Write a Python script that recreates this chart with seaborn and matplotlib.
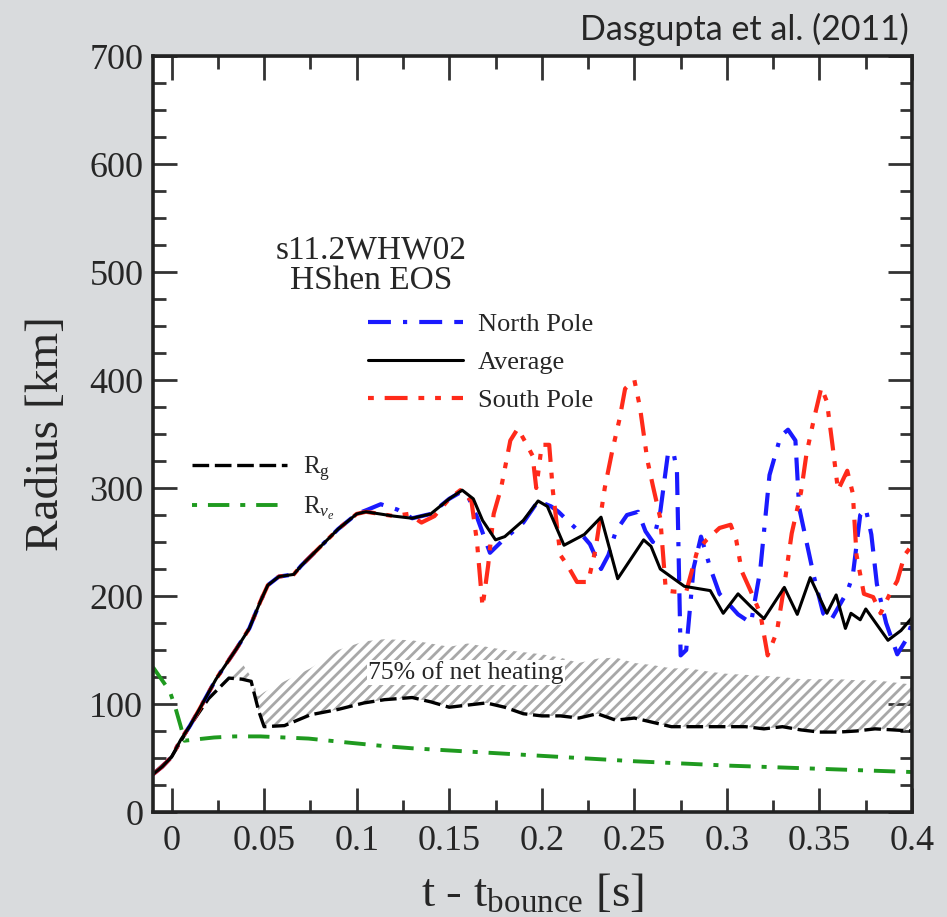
import numpy as np
import pandas as pd
import seaborn as sns
import matplotlib.pyplot as plt
from matplotlib.ticker import MultipleLocator
from matplotlib.lines import Line2D

# shock radius vs time after bounce
t_avg = [-0.01, -0.005, 0.0, 0.005, 0.01, 0.015, 0.024, 0.035, 0.042, 0.048, 0.052,
         0.058, 0.066, 0.07, 0.08, 0.09, 0.1, 0.105, 0.12, 0.13, 0.14, 0.15, 0.157,
         0.163, 0.168, 0.175, 0.18, 0.19, 0.198, 0.203, 0.212, 0.223, 0.232, 0.241,
         0.255, 0.259, 0.264, 0.277, 0.291, 0.298, 0.306, 0.313, 0.32, 0.331, 0.338,
         0.345, 0.354, 0.359, 0.364, 0.367, 0.372, 0.375, 0.387, 0.394, 0.4]
r_avg = [35, 42, 51, 67, 80, 95, 123, 151, 170, 195, 210,
         218, 220, 228, 245, 262, 276, 278, 274, 272, 276, 290, 298,
         290, 270, 252, 255, 270, 288, 283, 247, 257, 273, 216,
         252, 246, 225, 209, 205, 184, 202, 190, 179, 208, 183,
         217, 184, 201, 170, 184, 178, 188, 159, 168, 180]

t_north = [-0.01, -0.005, 0.0, 0.005, 0.01, 0.015, 0.024, 0.035, 0.042, 0.048, 0.052,
           0.058, 0.066, 0.07, 0.08, 0.09, 0.1, 0.106, 0.113, 0.122, 0.13, 0.14, 0.15,
           0.156, 0.16, 0.165, 0.172, 0.178, 0.19, 0.198, 0.205, 0.209, 0.215, 0.22,
           0.226, 0.232, 0.236, 0.24, 0.246, 0.252, 0.256, 0.26, 0.264, 0.268, 0.271,
           0.273, 0.275, 0.278, 0.282, 0.286, 0.291, 0.296, 0.306, 0.313, 0.318, 0.323,
           0.329, 0.333, 0.337, 0.339, 0.342, 0.347, 0.352, 0.356, 0.36, 0.365, 0.368,
           0.372, 0.375, 0.378, 0.381, 0.386, 0.392, 0.397, 0.4]
r_north = [35, 42, 51, 67, 80, 95, 123, 151, 170, 195, 210,
           218, 220, 228, 245, 262, 276, 280, 285, 280, 272, 276, 290,
           296, 293, 273, 240, 250, 268, 288, 283, 278, 268, 260,
           248, 225, 238, 260, 275, 278, 260, 250, 278, 330, 334,
           316, 145, 150, 226, 255, 226, 202, 183, 175, 224, 312,
           348, 354, 344, 282, 258, 218, 184, 177, 189, 204, 219,
           275, 281, 257, 211, 175, 146, 160, 175]

t_south = [-0.01, -0.005, 0.0, 0.005, 0.01, 0.015, 0.024, 0.035, 0.042, 0.048, 0.052,
           0.058, 0.066, 0.07, 0.08, 0.09, 0.1, 0.105, 0.12, 0.128, 0.135, 0.142, 0.15,
           0.156, 0.162, 0.165, 0.168, 0.171, 0.174, 0.178, 0.183, 0.187, 0.191, 0.195,
           0.197, 0.2, 0.204, 0.206, 0.21, 0.214, 0.219, 0.225, 0.229, 0.234, 0.238,
           0.242, 0.245, 0.25, 0.253, 0.257, 0.26, 0.264, 0.267, 0.272, 0.278, 0.284,
           0.289, 0.296, 0.302, 0.305, 0.308, 0.313, 0.318, 0.322, 0.327, 0.331, 0.335,
           0.34, 0.343, 0.347, 0.351, 0.354, 0.357, 0.36, 0.365, 0.368, 0.37, 0.374,
           0.379, 0.383, 0.388, 0.392, 0.396, 0.4]
r_south = [35, 42, 51, 67, 80, 95, 123, 151, 170, 195, 210,
           218, 220, 228, 245, 262, 276, 278, 274, 276, 268, 274, 290,
           298, 288, 250, 190, 228, 276, 300, 344, 355, 343, 330,
           300, 340, 340, 297, 238, 228, 213, 213, 243, 300, 334,
           364, 392, 400, 375, 326, 302, 272, 205, 204, 204, 242,
           252, 263, 266, 252, 223, 204, 184, 145, 167, 210, 258,
           296, 332, 364, 393, 380, 340, 298, 316, 295, 238, 202,
           199, 184, 202, 214, 238, 247]

# gain radius, upper edge of the heating region, neutrinosphere
t_rg = [-0.01, 0.0, 0.01, 0.02, 0.031, 0.038, 0.043, 0.047, 0.05, 0.061, 0.075,
        0.09, 0.104, 0.115, 0.13, 0.14, 0.15, 0.16, 0.17, 0.18, 0.19, 0.2, 0.21,
        0.22, 0.23, 0.24, 0.25, 0.26, 0.27, 0.28, 0.29, 0.3, 0.31, 0.32, 0.33,
        0.34, 0.35, 0.36, 0.37, 0.38, 0.39, 0.4]
r_rg = [35, 51, 80, 105, 124, 123, 121, 94, 79, 80, 90,
        95, 101, 104, 106, 102, 97, 99, 101, 97, 91, 89, 89,
        87, 91, 85, 87, 83, 79, 79, 79, 79, 79, 77, 79,
        76, 74, 74, 75, 77, 76, 75]
r_heat = [35, 51, 80, 105, 124, 138, 125, 107, 111, 121, 133,
          150, 158, 160, 159, 156, 153, 156, 153, 150, 148, 146, 143,
          138, 142, 143, 138, 136, 133, 133, 130, 128, 127, 126, 125,
          123, 123, 123, 122, 122, 120, 118]

t_nue = [-0.01, -0.001, 0.002, 0.005, 0.007, 0.012, 0.023, 0.034, 0.048, 0.074,
         0.097, 0.115, 0.13, 0.16, 0.2, 0.25, 0.3, 0.35, 0.4]
r_nue = [134, 112, 97, 79, 66, 67, 69, 70, 70, 68,
         64, 61, 59, 56, 52, 47, 43, 40, 37]

blue = '#1a1aff'
red = '#ff2a1a'
green = '#1f9a1f'
ls_north = (0, (5.5, 2.9, 1.0, 2.9, 5.5, 2.9))
ls_south = (0, (5.5, 2.6, 1.4, 2.6, 1.4, 2.6))
ls_rg = (0, (5.0, 1.7))
ls_nue = (0, (5.5, 2.8, 1.3, 2.8))

sns.set_theme(style='ticks')
plt.rcParams['font.family'] = ['Liberation Serif', 'DejaVu Serif']
plt.rcParams['mathtext.fontset'] = 'custom'
plt.rcParams['mathtext.rm'] = 'Liberation Serif'
plt.rcParams['mathtext.it'] = 'Liberation Serif:italic'
plt.rcParams['hatch.linewidth'] = 2.0
plt.rcParams['hatch.color'] = '#a8a8a8'

fig = plt.figure(figsize=(9.47, 9.17), dpi=100, facecolor='#d9dbdd')
ax = fig.add_axes([0.1616, 0.1145, 0.8015, 0.8244])
ax.set_facecolor('white')

ax.fill_between(t_rg, r_rg, r_heat, facecolor='none', edgecolor='#a8a8a8',
                hatch='///', linewidth=0)

sns.lineplot(x=t_nue, y=r_nue, ax=ax, color=green, lw=2.8, ls=ls_nue)
sns.lineplot(x=t_rg, y=r_rg, ax=ax, color='black', lw=2.4, ls=ls_rg)
sns.lineplot(x=t_north, y=r_north, ax=ax, color=blue, lw=3.0, ls=ls_north)
sns.lineplot(x=t_south, y=r_south, ax=ax, color=red, lw=3.0, ls=ls_south)
sns.lineplot(x=t_avg, y=r_avg, ax=ax, color='black', lw=2.2)

ax.set_xlim(-0.01, 0.4)
ax.set_ylim(0, 700)
ax.set_xticks([0, 0.05, 0.1, 0.15, 0.2, 0.25, 0.3, 0.35, 0.4])
ax.set_xticklabels(['0', '0.05', '0.1', '0.15', '0.2', '0.25', '0.3', '0.35', '0.4'])
ax.xaxis.set_minor_locator(MultipleLocator(0.025))
ax.yaxis.set_major_locator(MultipleLocator(100))
ax.yaxis.set_minor_locator(MultipleLocator(25))
ax.tick_params(which='both', direction='in', top=True, right=True, width=2.0,
               color='#333333', labelsize=26)
ax.tick_params(which='major', length=17)
ax.tick_params(which='minor', length=9)
ax.tick_params(axis='x', pad=9)
ax.tick_params(axis='y', pad=7)
for s in ax.spines.values():
    s.set_linewidth(2.6)
    s.set_color('#222222')

ax.set_xlabel('t - t$_\\mathrm{bounce}$ [s]', fontsize=34)
ax.xaxis.set_label_coords(0.5, -0.081)
ax.set_ylabel('Radius [km]', fontsize=34)
ax.yaxis.set_label_coords(-0.112, 0.5)

ax.text(0.108, 506, 's11.2WHW02\nHShen EOS', ha='center', va='center',
        fontsize=24, linespacing=1.0)
ax.text(0.159, 129, '75% of net heating', ha='center', va='center', fontsize=18.5,
        bbox=dict(facecolor='white', edgecolor='none', pad=1))

h1 = [Line2D([], [], color=blue, lw=3.0, ls=ls_north),
      Line2D([], [], color='black', lw=2.2),
      Line2D([], [], color=red, lw=3.0, ls=(0, (1.4, 2.6, 5.5, 2.6, 1.4, 2.6)))]
leg1 = ax.legend(h1, ['North Pole', 'Average', 'South Pole'], loc='upper left',
                 bbox_to_anchor=(0.283, 0.661), frameon=False, fontsize=19,
                 handlelength=3.6, handletextpad=0.57, labelspacing=0.55,
                 borderpad=0, borderaxespad=0)
ax.add_artist(leg1)
h2 = [Line2D([], [], color='black', lw=2.4, ls=ls_rg),
      Line2D([], [], color=green, lw=2.8, ls=(0, (1.3, 2.8, 5.5, 2.8)))]
ax.legend(h2, ['R$_\\mathrm{g}$', 'R$_{\\nu_e}$'], loc='upper left',
          bbox_to_anchor=(0.051, 0.473), frameon=False, fontsize=18,
          handlelength=3.8, handletextpad=0.64, labelspacing=0.46,
          borderpad=0, borderaxespad=0)

fig.text(0.96, 0.968, 'Dasgupta et al. (2011)', ha='right', va='center',
         fontsize=24.5, family=['Lato', 'DejaVu Sans'])

plt.savefig('out.png', dpi=100, facecolor=fig.get_facecolor())
